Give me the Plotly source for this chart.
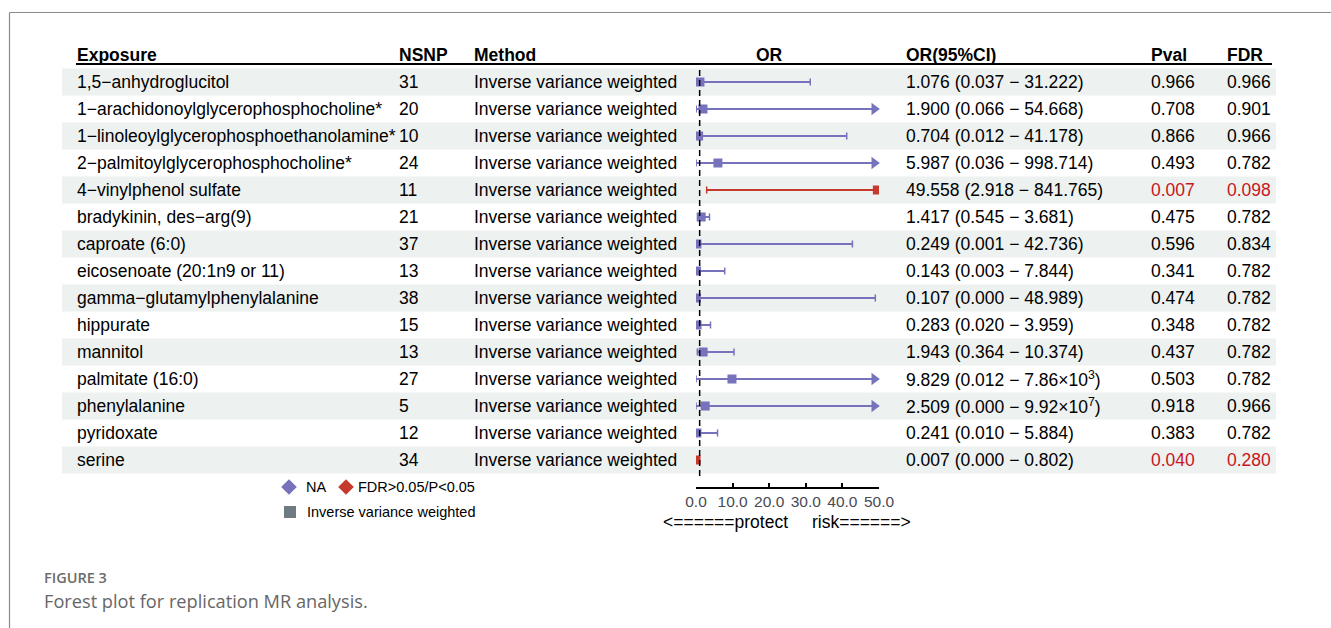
import plotly.graph_objects as go

# ---------------------------------------------------------------- data
exposure = [
    "1,5−anhydroglucitol",
    "1−arachidonoylglycerophosphocholine*",
    "1−linoleoylglycerophosphoethanolamine*",
    "2−palmitoylglycerophosphocholine*",
    "4−vinylphenol sulfate",
    "bradykinin, des−arg(9)",
    "caproate (6:0)",
    "eicosenoate (20:1n9 or 11)",
    "gamma−glutamylphenylalanine",
    "hippurate",
    "mannitol",
    "palmitate (16:0)",
    "phenylalanine",
    "pyridoxate",
    "serine",
]
nsnp = [31, 20, 10, 24, 11, 21, 37, 13, 38, 15, 13, 27, 5, 12, 34]
method = ["Inverse variance weighted"] * 15
or_est = [1.076, 1.900, 0.704, 5.987, 49.558, 1.417, 0.249, 0.143, 0.107,
          0.283, 1.943, 9.829, 2.509, 0.241, 0.007]
or_lo = [0.037, 0.066, 0.012, 0.036, 2.918, 0.545, 0.001, 0.003, 0.000,
         0.020, 0.364, 0.012, 0.000, 0.010, 0.000]
or_hi = [31.222, 54.668, 41.178, 998.714, 841.765, 3.681, 42.736, 7.844,
         48.989, 3.959, 10.374, 7.86e3, 9.92e7, 5.884, 0.802]
pval = [0.966, 0.708, 0.866, 0.493, 0.007, 0.475, 0.596, 0.341, 0.474,
        0.348, 0.437, 0.503, 0.918, 0.383, 0.040]
fdr = [0.966, 0.901, 0.966, 0.782, 0.098, 0.782, 0.834, 0.782, 0.782,
       0.782, 0.782, 0.782, 0.966, 0.782, 0.280]

x_ticks = [0, 10, 20, 30, 40, 50]
x_ticklabels = ["0.0", "10.0", "20.0", "30.0", "40.0", "50.0"]
headers = ["Exposure", "NSNP", "Method", "OR", "OR(95%CI)", "Pval", "FDR"]

# ---------------------------------------------------------------- styling
W, H = 1331, 628
XMIN, XMAX = 0, 50
ROW0_PX, ROW_H = 82, 27          # centre of first row and row pitch (px)
PURPLE = "#7672BC"
RED = "#C6392D"
TXT_RED = "#C8161D"
SHADE = "#EDF1F0"
FONT = "Liberation Sans, Arial, sans-serif"
FS = 17.5


def px(x):
    return x / W


def py(y):
    return 1 - y / H


def row_of(ypix):
    return 1 + (ypix - ROW0_PX) / ROW_H


def fmt_num(v):
    if v >= 1000:
        exp = len(str(int(v))) - 1
        return f"{v / 10 ** exp:.2f}×10<sup>{exp}</sup>"
    return f"{v:.3f}"


n = len(exposure)
rows = list(range(1, n + 1))
sig = [p < 0.05 for p in pval]
colors = [RED if s else PURPLE for s in sig]

fig = go.Figure()

# ---------------------------------------------------------------- forest marks
CAP = 0.13
for col in (PURPLE, RED):
    idx = [i for i in range(n) if colors[i] == col]
    lx, ly, cx, cy = [], [], [], []
    for i in idx:
        r = rows[i]
        hi_vis = min(or_hi[i], XMAX)
        lx += [or_lo[i], hi_vis, None]
        ly += [r, r, None]
        cx += [or_lo[i], or_lo[i], None]
        cy += [r - CAP, r + CAP, None]
        if or_hi[i] <= XMAX:
            cx += [or_hi[i], or_hi[i], None]
            cy += [r - CAP, r + CAP, None]
    fig.add_trace(go.Scatter(x=lx, y=ly, mode="lines",
                             line=dict(color=col, width=2), hoverinfo="skip"))
    fig.add_trace(go.Scatter(x=cx, y=cy, mode="lines",
                             line=dict(color=col, width=1.5), hoverinfo="skip"))
    fig.add_trace(go.Scatter(x=[or_est[i] for i in idx], y=[rows[i] for i in idx],
                             mode="markers", cliponaxis=True,
                             marker=dict(symbol="square", size=9, color=col,
                                         line=dict(width=0))))
    # arrow heads where the interval runs past the axis limit
    arr = [i for i in idx if or_hi[i] > XMAX and or_est[i] < XMAX - 2]
    if arr:
        fig.add_trace(go.Scatter(x=[XMAX - 1.3] * len(arr), y=[rows[i] for i in arr],
                                 mode="markers", cliponaxis=False,
                                 marker=dict(symbol="triangle-right", size=11,
                                             color=col, line=dict(width=0))))

# null line at OR = 1
fig.add_shape(type="line", xref="x", yref="y", x0=1, x1=1,
              y0=row_of(70), y1=row_of(477),
              line=dict(color="black", width=1.5, dash="6px,4px"))

# ---------------------------------------------------------------- table
shapes = []
for r in rows:
    if r % 2 == 1:
        shapes.append(dict(type="rect", xref="paper", yref="y", layer="below",
                           x0=px(62), x1=px(1276), y0=r - 0.5, y1=r + 0.5,
                           fillcolor=SHADE, line=dict(width=0)))
# header rule
shapes.append(dict(type="line", xref="paper", yref="paper",
                   x0=px(76), x1=px(1272), y0=py(64), y1=py(64),
                   line=dict(color="black", width=2)))
# page frame
shapes.append(dict(type="line", xref="paper", yref="paper",
                   x0=px(9.5), x1=1.0, y0=py(12.5), y1=py(12.5),
                   line=dict(color="#8A8A8A", width=1.2)))
shapes.append(dict(type="line", xref="paper", yref="paper",
                   x0=px(9.5), x1=px(9.5), y0=py(12.5), y1=0,
                   line=dict(color="#8A8A8A", width=1.2)))
for s in shapes:
    fig.add_shape(**s)

# left edges of the text columns (annotation boxes add ~2px padding)
col_x = [75, 397, 472, None, 904, 1149, 1225]
ann = []
for h, cx in zip(headers, col_x):
    if cx is None:
        ann.append(dict(x=px(769), y=0, xref="paper", yref="y", text=f"<b>{h}</b>",
                        xanchor="center", yanchor="middle", showarrow=False,
                        font=dict(family=FONT, size=FS, color="black")))
    else:
        ann.append(dict(x=px(cx), y=0, xref="paper", yref="y", text=f"<b>{h}</b>",
                        xanchor="left", yanchor="middle", showarrow=False,
                        font=dict(family=FONT, size=FS, color="black")))

for i in range(n):
    r = rows[i]
    ci = f"{or_est[i]:.3f} ({fmt_num(or_lo[i])} − {fmt_num(or_hi[i])})"
    pc = TXT_RED if sig[i] else "black"
    cells = [(col_x[0], exposure[i], "black"), (col_x[1], str(nsnp[i]), "black"),
             (col_x[2], method[i], "black"), (col_x[4], ci, "black"),
             (col_x[5], f"{pval[i]:.3f}", pc), (col_x[6], f"{fdr[i]:.3f}", pc)]
    for cx, t, c in cells:
        ann.append(dict(x=px(cx), y=r, xref="paper", yref="y", text=t,
                        xanchor="left", yanchor="middle", showarrow=False,
                        font=dict(family=FONT, size=FS, color=c)))

# axis direction captions
ann.append(dict(x=px(790), y=py(522), xref="paper", yref="paper",
                text="<======protect", xanchor="right", yanchor="middle",
                showarrow=False, font=dict(family=FONT, size=FS, color="black")))
ann.append(dict(x=px(810), y=py(522), xref="paper", yref="paper",
                text="risk======>", xanchor="left", yanchor="middle",
                showarrow=False, font=dict(family=FONT, size=FS, color="black")))

# legend
LFS = 14.5
fig.add_trace(go.Scatter(x=[289, 346], y=[487, 487], xaxis="x2", yaxis="y2",
                         mode="markers", cliponaxis=False,
                         marker=dict(symbol="diamond", size=12, color=[PURPLE, RED],
                                     line=dict(width=0))))
fig.add_trace(go.Scatter(x=[290], y=[512], xaxis="x2", yaxis="y2",
                         mode="markers", cliponaxis=False,
                         marker=dict(symbol="square", size=12, color="#6F7B83",
                                     line=dict(width=0))))
for tx, ty, t in [(304, 487, "NA"), (356, 487, "FDR>0.05/P<0.05"),
                  (305, 512, "Inverse variance weighted")]:
    ann.append(dict(x=px(tx), y=py(ty), xref="paper", yref="paper", text=t,
                    xanchor="left", yanchor="middle", showarrow=False,
                    font=dict(family=FONT, size=LFS, color="black")))

# figure caption
ann.append(dict(x=px(42), y=py(577), xref="paper", yref="paper", text="FIGURE 3",
                xanchor="left", yanchor="middle", showarrow=False,
                font=dict(family="Open Sans, sans-serif", size=14.5, color="#6B6B6B",
                          weight=600)))
ann.append(dict(x=px(42), y=py(601), xref="paper", yref="paper",
                text="Forest plot for replication MR analysis.",
                xanchor="left", yanchor="middle", showarrow=False,
                font=dict(family="Open Sans, sans-serif", size=18.2, color="#666666")))

fig.update_layout(
    width=W, height=H, autosize=False,
    margin=dict(l=0, r=0, t=0, b=0, pad=0, autoexpand=False),
    paper_bgcolor="white", plot_bgcolor="rgba(0,0,0,0)",
    showlegend=False,
    annotations=ann,
    xaxis=dict(domain=[px(696), px(879)], range=[XMIN, XMAX], anchor="free",
               position=py(488), showline=True, linecolor="black", linewidth=1.5,
               ticks="inside", ticklen=4, tickwidth=1.5, tickcolor="black",
               tickvals=x_ticks, ticktext=x_ticklabels, automargin=False,
               tickfont=dict(family=FONT, size=15.5, color="#4A4A55"),
               showgrid=False, zeroline=False, fixedrange=True),
    yaxis=dict(domain=[0, 1], range=[row_of(H), row_of(0)], visible=False,
               automargin=False, fixedrange=True),
    xaxis2=dict(domain=[0, 1], range=[0, W], anchor="y2", visible=False,
                automargin=False, fixedrange=True),
    yaxis2=dict(domain=[0, 1], range=[H, 0], anchor="x2", visible=False,
                automargin=False, fixedrange=True),
)

fig.write_html("out.html")
